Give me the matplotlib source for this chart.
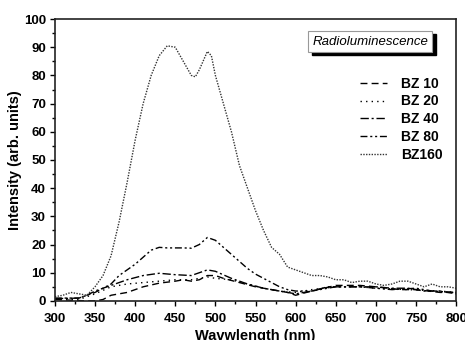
import matplotlib
matplotlib.use("Agg")
import matplotlib.pyplot as plt

plt.rcParams['font.family'] = ['Liberation Sans', 'DejaVu Sans']

# wavelength grids and intensities
wl_160 = [300, 310, 320, 330, 340, 350, 360, 370, 380, 390, 400, 410, 420, 430, 440, 450,
          460, 470, 475, 480, 490, 495, 500, 510, 520, 530, 540, 550, 560, 570, 580, 590,
          600, 610, 620, 630, 640, 650, 660, 670, 680, 690, 700, 710, 720, 730, 740, 750,
          760, 770, 780, 790, 800]
bz160 = [1.5, 2, 3, 2.5, 2, 5, 9, 16, 28, 42, 57, 70, 80, 87, 90.5, 90,
         85, 80, 79.5, 82, 88.5, 87, 80, 70, 60, 48, 40, 32, 25, 19, 16.5, 12,
         11, 10, 9, 9, 8.5, 7.5, 7.5, 6.5, 7, 7, 6, 5.5, 6, 7, 7, 6,
         5, 6, 5, 5, 4.5]

wl_80 = [300, 320, 330, 340, 350, 360, 370, 380, 390, 400, 410, 420, 430, 440, 450, 460,
         470, 480, 490, 500, 510, 520, 530, 540, 550, 560, 570, 580, 590, 600, 620, 650,
         680, 700, 720, 750, 770, 800]
bz80 = [1, 1, 1, 2, 3, 4.5, 6, 9, 11, 13, 15.5, 18, 19, 18.8, 18.8, 18.8,
        18.7, 20, 22.5, 21.5, 19, 16.5, 14, 11.5, 9.5, 8, 6.5, 5, 4, 3.5, 3.5, 5,
        5, 4.5, 4, 4.5, 3.5, 3]

wl_40 = [300, 330, 340, 350, 370, 390, 410, 430, 450, 470, 490, 500, 520, 540, 560, 580,
         600, 620, 640, 660, 680, 700, 720, 740, 760, 780, 800]
bz40 = [0.8, 1, 2, 3.5, 5.5, 7.5, 9, 9.8, 9.3, 9, 11, 10.5, 8, 6, 4.5, 3.5,
        2.5, 3.5, 5, 5, 5, 5, 4.5, 4.5, 3.5, 3.5, 2.5]

wl_10 = [300, 340, 350, 360, 370, 390, 410, 430, 450, 460, 470, 480, 490, 500, 510, 530,
         550, 570, 590, 600, 620, 650, 680, 700, 730, 750, 780, 800]
bz10 = [0.5, 0, 0, 0.5, 2, 3, 5, 6.3, 7, 7.5, 7, 7.5, 9, 9, 8, 6.5,
        5, 4, 3, 2, 3.5, 5.5, 5.5, 5, 4, 4, 3, 3]

wl_20 = [300, 330, 350, 370, 390, 410, 430, 450, 470, 490, 500, 520, 540, 560, 580, 600,
         620, 650, 680, 700, 740, 780, 800]
bz20 = [0.5, 0.5, 2.5, 5, 6, 6.5, 7, 7.5, 7.5, 8.5, 8, 7.5, 6, 4.5, 3.5, 3,
        4, 5, 5, 4.5, 4, 3.5, 3]

labels = ['BZ 10', 'BZ 20', 'BZ 40', 'BZ 80', 'BZ160']

fig = plt.figure(figsize=(4.65, 3.4), dpi=100)
ax = fig.add_axes([0.118, 0.115, 0.863, 0.829])

lw = 1.0
ax.plot(wl_10, bz10, color='black', lw=lw, dashes=(5, 3), label=labels[0])
ax.plot(wl_20, bz20, color='black', lw=lw, dashes=(1, 3), label=labels[1])
ax.plot(wl_40, bz40, color='black', lw=lw, dashes=(6, 2, 1.5, 2), label=labels[2])
ax.plot(wl_80, bz80, color='black', lw=lw, dashes=(5, 2, 1.5, 2, 1.5, 2), label=labels[3])
ax.plot(wl_160, bz160, color='#333333', lw=lw, dashes=(1, 1), label=labels[4])

ax.set_xlim(300, 800)
ax.set_ylim(0, 100)
ax.set_xticks(range(300, 801, 50))
ax.set_yticks(range(0, 101, 10))
ax.set_xticks(range(325, 800, 50), minor=True)
ax.set_yticks(range(5, 100, 10), minor=True)
ax.tick_params(direction='out', which='both', top=False, right=False,
               labelsize=9.5, width=1)
ax.tick_params(which='major', length=3.5)
ax.tick_params(which='minor', length=2)
ax.tick_params(axis='x', pad=5)
ax.tick_params(axis='y', pad=3)
for t in ax.get_xticklabels() + ax.get_yticklabels():
    t.set_fontweight('bold')
for s in ax.spines.values():
    s.set_linewidth(1.2)
    s.set_color('#222222')

ax.set_xlabel('Wavwlength (nm)', fontsize=10.5, fontweight='bold', labelpad=3)
ax.set_ylabel('Intensity (arb. units)', fontsize=10.5, fontweight='bold', labelpad=1)

leg = ax.legend(loc='upper left', bbox_to_anchor=(0.728, 0.84), frameon=False,
                handlelength=2.0, handletextpad=1.0, labelspacing=0.27,
                prop={'weight': 'bold', 'size': 10})

# shadowed title box
ax.add_patch(plt.Rectangle((0.641, 0.872), 0.309, 0.074, transform=ax.transAxes,
                           facecolor='black', edgecolor='black', zorder=4))
ax.add_patch(plt.Rectangle((0.631, 0.883), 0.309, 0.074, transform=ax.transAxes,
                           facecolor='white', edgecolor='#999999', lw=0.8, zorder=5))
ax.text(0.7855, 0.92, 'Radioluminescence', transform=ax.transAxes, ha='center',
        va='center', fontsize=9.5, style='italic', zorder=6)

fig.savefig('out.png', dpi=100)
